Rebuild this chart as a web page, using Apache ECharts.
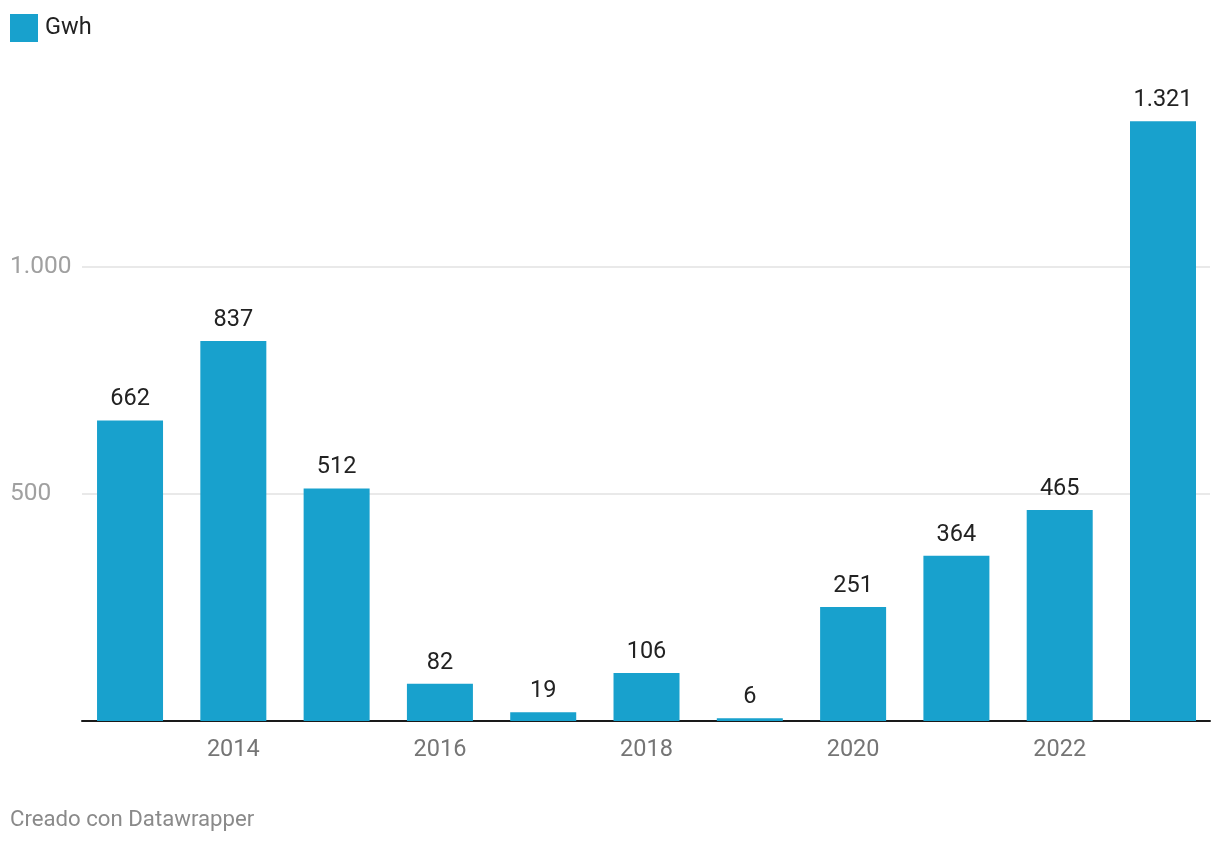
<!DOCTYPE html>
<html>
<head>
<meta charset="utf-8">
<script src="https://cdn.jsdelivr.net/npm/echarts@6/dist/echarts.min.js"></script>
<style>
html,body{margin:0;padding:0;background:#fff;}
#chart{width:1220px;height:846px;}
</style>
</head>
<body>
<div id="chart"></div>
<script>
const years = [2013, 2014, 2015, 2016, 2017, 2018, 2019, 2020, 2021, 2022, 2023];
const gwh = [662, 837, 512, 82, 19, 106, 6, 251, 364, 465, 1321];
const xTickLabels = [2014, 2016, 2018, 2020, 2022];
const yTickValues = [0, 500, 1000];
const seriesName = 'Gwh';

function fmt(v) {
  const s = String(Math.round(v));
  return s.replace(/\B(?=(\d{3})+(?!\d))/g, '.');
}

const chart = echarts.init(document.getElementById('chart'), null, {renderer: 'canvas'});
chart.setOption({
  animation: false,
  backgroundColor: '#ffffff',
  textStyle: {fontFamily: 'Roboto'},
  legend: {
    left: 10, top: 14, padding: 0, itemWidth: 28, itemHeight: 28, itemGap: 10,
    icon: 'rect',
    textStyle: {fontSize: 23.5, color: '#222', fontFamily: 'Roboto', padding: [0, 0, 0, 2]},
    data: [seriesName]
  },
  graphic: [{
    type: 'text', left: 10, top: 809,
    style: {text: 'Creado con Datawrapper', fontSize: 22.2, fill: '#8a8a8a', fontFamily: 'Roboto'}
  }],
  grid: {left: 82, right: 10, top: 85.4, bottom: 125, containLabel: false},
  xAxis: {
    type: 'value',
    min: 2012.535, max: 2023.455,
    splitLine: {show: false},
    axisTick: {show: false},
    axisLine: {show: true, onZero: false, lineStyle: {color: '#1a1a1a', width: 2}},
    axisLabel: {
      customValues: xTickLabels,
      formatter: v => String(v),
      fontSize: 23.5, color: '#757575', margin: 17, fontFamily: 'Roboto'
    }
  },
  yAxis: {
    type: 'value',
    min: 0, max: 1400, interval: 500,
    axisLine: {show: false},
    axisTick: {show: false},
    splitLine: {show: true, lineStyle: {color: ['#e2e2e2', '#e2e2e2', '#e2e2e2', 'rgba(0,0,0,0)'], width: 1.5}},
    axisLabel: {
      align: 'left', margin: 72,
      fontSize: 24.5, color: '#a0a0a0', fontFamily: 'Roboto',
      verticalAlign: 'middle', padding: [3, 0, 0, 0],
      formatter: v => (yTickValues.indexOf(v) > 0 ? fmt(v) : '')
    }
  },
  series: [{
    name: seriesName,
    type: 'bar',
    barWidth: 66,
    itemStyle: {color: '#18a1cd'},
    data: years.map((y, i) => [y, gwh[i]]),
    label: {
      show: true, position: 'top', distance: 9,
      fontSize: 23.5, color: '#222', fontFamily: 'Roboto',
      formatter: p => fmt(p.value[1])
    }
  }]
});
</script>
</body>
</html>
